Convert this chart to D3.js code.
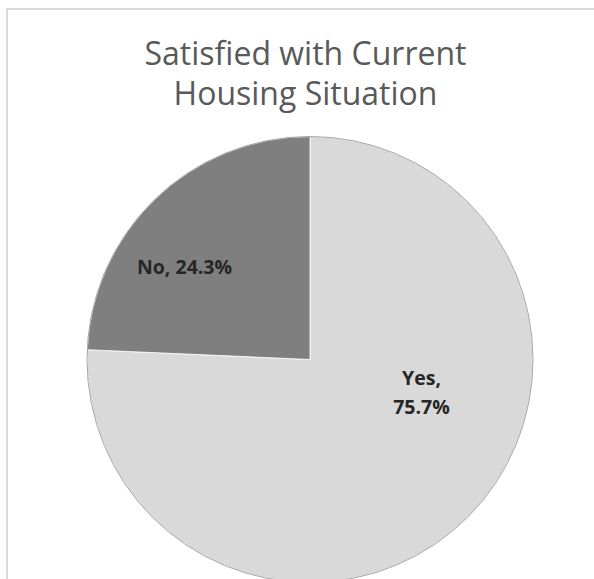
<!DOCTYPE html>
<html>
<head>
<meta charset="utf-8">
<script src="https://cdn.jsdelivr.net/npm/d3@7"></script>
<style>
  html, body { margin: 0; padding: 0; background: #fff; }
  svg { display: block; }
</style>
</head>
<body>
<svg id="chart" width="594" height="579"></svg>
<script>
// ---- data ----
const titleLines = ["Satisfied with Current", "Housing Situation"];
const categories = ["Yes", "No"];
const values = [75.7, 24.3];
const sliceColors = ["#d9d9d9", "#7f7f7f"];

// ---- layout ----
const W = 594, H = 579;
const cx = 310, cy = 359.5, R = 223;

const svg = d3.select("#chart");

// chart border (frame extends past the right/bottom edge)
svg.append("rect")
  .attr("x", 7).attr("y", 9)
  .attr("width", W + 20).attr("height", H + 20)
  .attr("fill", "#fff")
  .attr("stroke", "#d9d9d9").attr("stroke-width", 2);

// title
const title = svg.append("text")
  .attr("text-anchor", "middle")
  .attr("font-family", "'Open Sans', sans-serif")
  .attr("font-size", 32)
  .attr("fill", "#595959");
titleLines.forEach((t, i) => {
  title.append("tspan").attr("x", 305.5).attr("y", 65 + i * 40).text(t);
});

// pie
const pie = d3.pie().sort(null).value(d => d.value).startAngle(0).endAngle(2 * Math.PI);
const data = categories.map((c, i) => ({ cat: c, value: values[i], color: sliceColors[i] }));
const arcs = pie(data);
const arc = d3.arc().innerRadius(0).outerRadius(R);

const g = svg.append("g").attr("transform", `translate(${cx},${cy})`);
g.selectAll("path.slice")
  .data(arcs)
  .join("path")
  .attr("class", "slice")
  .attr("d", arc)
  .attr("fill", d => d.data.color)
  .attr("stroke", "#ffffff")
  .attr("stroke-width", 0.8);

// outer outline
g.append("circle")
  .attr("r", R)
  .attr("fill", "none")
  .attr("stroke", "#a6a6a6")
  .attr("stroke-width", 1);

// labels
const labelArc = d3.arc().innerRadius(R * 0.6).outerRadius(R * 0.6);
const labelNudge = { "Yes": [19, -64], "No": [-33, 4] };
const labelLines = d => d.data.cat === "Yes"
  ? [d.data.cat + ",", d3.format(".1f")(d.data.value) + "%"]
  : [d.data.cat + ", " + d3.format(".1f")(d.data.value) + "%"];

arcs.forEach(d => {
  const [x0, y0] = labelArc.centroid(d);
  const [nx, ny] = labelNudge[d.data.cat];
  const x = x0 + nx, y = y0 + ny;
  const lines = labelLines(d);
  const lh = 29;
  const t = g.append("text")
    .attr("text-anchor", "middle")
    .attr("font-family", "'Open Sans', sans-serif")
    .attr("font-weight", "bold")
    .attr("font-size", 19.5)
    .attr("fill", "#262626");
  lines.forEach((s, i) => {
    t.append("tspan")
      .attr("x", x)
      .attr("y", y + (i - (lines.length - 1) / 2) * lh + 7)
      .text(s);
  });
});
</script>
</body>
</html>
